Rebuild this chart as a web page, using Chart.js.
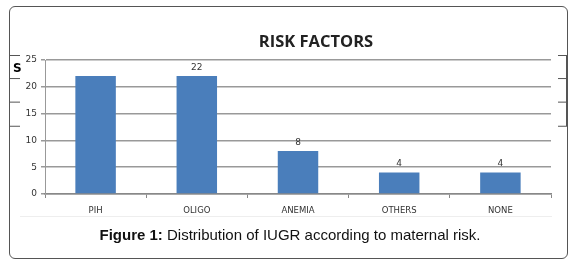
<!DOCTYPE html>
<html>
<head>
<meta charset="utf-8">
<script src="https://cdn.jsdelivr.net/npm/chart.js@4.4.1/dist/chart.umd.min.js"></script>
<style>
  body { margin: 0; background: #fff; }
  #frame { position: absolute; left: 9px; top: 6px; width: 557px; height: 251px;
           border: 1px solid #555; border-radius: 6px; }
  #plot { position: absolute; left: 0; top: 0; }
  #titulo { position: absolute; left: 216px; top: 29px; width: 200px; text-align: center;
            font-family: "Open Sans", sans-serif; font-weight: bold; font-size: 16.5px; color: #222; }
  #rule { position: absolute; left: 20px; top: 216px; width: 532px; height: 1px; background: #eee; }
  #caption { position: absolute; left: 0; top: 226px; width: 580px; text-align: center;
             font-family: "Liberation Sans", Arial, sans-serif; font-size: 15px; color: #111; }
</style>
</head>
<body>
<div id="frame"></div>
<canvas id="plot" width="572" height="220"></canvas>
<div id="titulo">RISK FACTORS</div>
<div id="rule"></div>
<div id="caption"><b>Figure 1:</b> Distribution of IUGR according to maternal risk.</div>
<script>
// datos
let categorias = ['PIH', 'OLIGO', 'ANEMIA', 'OTHERS', 'NONE'];
let valores = [22, 22, 8, 4, 4];
let mostrarEtiqueta = [false, true, true, true, true];
let ticksY = [0, 5, 10, 15, 20, 25];

// etiquetas de valor encima de las barras
let etiquetasPlugin = {
  id: 'etiquetas',
  afterDatasetsDraw(chart) {
    let ctx = chart.ctx;
    let meta = chart.getDatasetMeta(0);
    ctx.save();
    ctx.font = '9px "DejaVu Sans", sans-serif';
    ctx.fillStyle = '#333';
    ctx.textAlign = 'center';
    ctx.textBaseline = 'bottom';
    meta.data.forEach((bar, i) => {
      if (mostrarEtiqueta[i]) ctx.fillText(valores[i], bar.x, bar.y - 4);
    });
    ctx.restore();
  }
};

// restos de otra figura recortada en los bordes
let bordesPlugin = {
  id: 'bordes',
  afterDraw(chart) {
    let ctx = chart.ctx;
    let y = chart.scales.y;
    let marcas = [25, 20.7, 16.3, 11.8].map(v => y.getPixelForValue(v) - 5);
    ctx.save();
    ctx.strokeStyle = '#555';
    ctx.lineWidth = 1;
    ctx.beginPath();
    marcas.forEach(p => {
      ctx.moveTo(10, p + 0.5); ctx.lineTo(20, p + 0.5);
      ctx.moveTo(558, p + 0.5); ctx.lineTo(566, p + 0.5);
    });
    ctx.moveTo(566.5, marcas[0]); ctx.lineTo(566.5, marcas[3] + 1);
    ctx.stroke();
    ctx.font = 'bold 12px "DejaVu Sans", sans-serif';
    ctx.fillStyle = '#000';
    ctx.textBaseline = 'middle';
    ctx.fillText('S', 13, y.getPixelForValue(23.3));
    ctx.restore();
  }
};

let config = {
  type: 'bar',
  data: {
    labels: categorias,
    datasets: [{
      data: valores,
      backgroundColor: '#4a7ebb',
      borderWidth: 0,
      categoryPercentage: 1,
      barPercentage: 0.4
    }]
  },
  options: {
    responsive: false,
    animation: false,
    layout: { padding: { left: 0, right: 21, top: 60, bottom: 0 } },
    plugins: {
      legend: { display: false },
      tooltip: { enabled: false },
      title: { display: false }
    },
    scales: {
      x: {
        grid: { display: true, drawOnChartArea: false, offset: true, tickLength: 4, color: '#888' },
        border: { color: '#888', width: 1.5 },
        ticks: { color: '#333', padding: 8, font: { family: '"DejaVu Sans", sans-serif', size: 8.5 } },
        afterFit: s => { s.height = 26; }
      },
      y: {
        min: 0,
        max: 25,
        afterBuildTicks: s => { s.ticks = ticksY.map(v => ({ value: v })); },
        grid: { color: '#999', lineWidth: 1.5, tickLength: 4 },
        border: { color: '#999', width: 1 },
        ticks: { color: '#333', padding: 4, font: { family: '"DejaVu Sans", sans-serif', size: 9 } },
        afterFit: s => { s.width = 45; }
      }
    }
  },
  plugins: [etiquetasPlugin, bordesPlugin]
};

let grafico = new Chart(document.getElementById('plot'), config);
</script>
</body>
</html>
